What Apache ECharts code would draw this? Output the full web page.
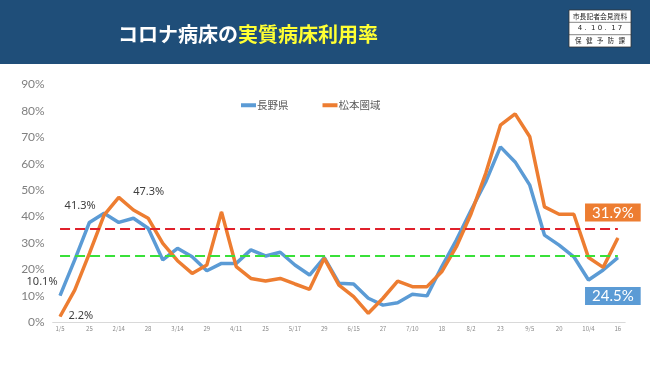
<!DOCTYPE html>
<html><head><meta charset="utf-8">
<script src="https://cdn.jsdelivr.net/npm/echarts@6/dist/echarts.min.js"></script>
<style>html,body{margin:0;padding:0;background:#fff}#c{width:650px;height:365px}</style>
</head><body><div id="c"></div>
<script>
var categories = ['1/5','1/15','1/25','2/4','2/14','2/21','2/28','3/7','3/14','3/21','3/29','4/4','4/11','4/18','4/25','5/9','5/17','5/22','5/29','6/5','6/15','6/20','6/27','7/3','7/10','7/14','7/18','7/25','8/2','8/12','8/23','8/29','9/5','9/12','9/20','9/27','10/4','10/10','10/16'];
var tickLabels = ['1/5','25','2/14','28','3/14','29','4/11','25','5/17','29','6/15','27','7/10','18','8/2','23','9/5','20','10/4','16'];
var naganoValues = [10.1,23.6,37.8,41.3,37.8,39.4,35.6,23.6,28.0,24.8,19.5,22.3,22.3,27.4,25.1,26.5,21.7,17.9,24.5,14.8,14.5,9.1,6.5,7.4,10.6,10.0,21.0,31.1,42.4,53.2,66.4,60.7,51.9,33.0,29.2,24.8,16.0,19.8,24.5];
var matsumotoValues = [2.2,12.2,26.1,40.6,47.3,42.5,39.4,29.9,23.3,18.5,21.7,41.8,21.1,16.6,15.6,16.6,14.5,12.5,24.2,14.1,9.7,3.4,9.1,15.6,13.5,13.5,19.1,28.6,41.1,56.4,74.6,78.9,70.2,43.7,40.9,40.9,24.5,20.8,31.9];
var seriesNames = ['長野県','松本圏域'];
var redLineValue = 35.5;
var greenLineValue = 25.3;
var yTicks = {min:0, max:90, interval:10};

var BLUE = '#5B9BD5', ORANGE = '#ED7D31';
var smallLabel = {show:true, formatter:'{c}%', color:'#404040', fontSize:11, fontFamily:'Noto Sans'};
function boxLabel(color, pos, off){
  return {show:true, position:pos, offset:off, formatter:'{c}%', color:'#fff', fontSize:15,
    fontFamily:'Lato', backgroundColor:color, padding:[2,7,1,7]};
}
var naganoLabels = {};
naganoLabels[0] = Object.assign({}, smallLabel, {position:'left', offset:[3,-14]});
naganoLabels[3] = Object.assign({}, smallLabel, {position:'left', offset:[-3,-7]});
naganoLabels[38] = boxLabel(BLUE, 'bottom', [-5,24]);
var matsuLabels = {};
matsuLabels[0] = Object.assign({}, smallLabel, {position:'right', offset:[3,-1]});
matsuLabels[4] = Object.assign({}, smallLabel, {position:'right', offset:[9,-5]});
matsuLabels[38] = boxLabel(ORANGE, 'top', [-5,-11]);

function build(vals, labels){
  return vals.map(function(v,i){ return labels[i] ? {value:v, label:labels[i]} : v; });
}

var chart = echarts.init(document.getElementById('c'));
chart.setOption({
  animation:false,
  backgroundColor:'#ffffff',
  textStyle:{fontFamily:'Noto Sans CJK JP'},
  grid:{left:52.7, right:24.8, top:84.5, bottom:42.7},
  legend:{top:95, left:236, itemWidth:15, itemHeight:4, itemGap:34, icon:'rect',
    textStyle:{fontSize:10.5, color:'#595959', fontFamily:'Noto Sans CJK JP', padding:[0,0,0,-4]},
    data:seriesNames},
  xAxis:{type:'category', data:categories, boundaryGap:true,
    axisLine:{lineStyle:{color:'#d9d9d9', width:1}}, axisTick:{show:false},
    axisLabel:{interval:1, fontSize:6, color:'#8a8a8a', margin:3,
      formatter:function(v,i){ return tickLabels[i/2] || ''; }}},
  yAxis:{type:'value', min:yTicks.min, max:yTicks.max, interval:yTicks.interval,
    splitLine:{show:false}, axisLine:{show:false}, axisTick:{show:false},
    axisLabel:{formatter:'{value}%', fontSize:12, color:'#808080', margin:8, fontFamily:'Lato'}},
  series:[
    {name:seriesNames[0], type:'line', data:build(naganoValues, naganoLabels), symbol:'circle', symbolSize:1,
      itemStyle:{color:BLUE}, lineStyle:{color:BLUE, width:3.5}, z:3,
      markLine:{symbol:'none', silent:true, label:{show:false}, animation:false,
        data:[
          [{coord:[categories[0], redLineValue], lineStyle:{color:'#E0202B', width:2, type:[10,5]}},{coord:[categories[categories.length-1], redLineValue]}],
          [{coord:[categories[0], greenLineValue], lineStyle:{color:'#39E039', width:2, type:[10,5]}},{coord:[categories[categories.length-1], greenLineValue]}]
        ]}},
    {name:seriesNames[1], type:'line', data:build(matsumotoValues, matsuLabels), symbol:'circle', symbolSize:1,
      itemStyle:{color:ORANGE}, lineStyle:{color:ORANGE, width:3.5}, z:4}
  ],
  graphic:[
    {type:'rect', shape:{x:0,y:0,width:650,height:64}, style:{fill:'#1F4E79'}, z:-1},
    {type:'text', x:248, y:34, style:{
      text:'{w|コロナ病床の}{y|実質病床利用率}', align:'center', verticalAlign:'middle',
      rich:{w:{fill:'#ffffff', fontSize:20, fontWeight:'bold', fontFamily:'Noto Sans CJK JP'},
            y:{fill:'#FFFF33', fontSize:20, fontWeight:'bold', fontFamily:'Noto Sans CJK JP'}}}},
    {type:'rect', shape:{x:569,y:10,width:62,height:37}, style:{fill:'#ffffff', stroke:'#333', lineWidth:0.8}},
    {type:'line', shape:{x1:569,y1:22.3,x2:631,y2:22.3}, style:{stroke:'#333', lineWidth:0.6}},
    {type:'line', shape:{x1:569,y1:34.7,x2:631,y2:34.7}, style:{stroke:'#333', lineWidth:0.6}},
    {type:'text', x:600, y:16.3, style:{text:'市長記者会見資料', align:'center', verticalAlign:'middle', fontSize:6.8, fill:'#222', fontFamily:'Noto Sans CJK JP'}},
    {type:'text', x:600, y:28.6, style:{text:'4 .  1 0 .  1 7', align:'center', verticalAlign:'middle', fontSize:7, fill:'#222', fontFamily:'DejaVu Sans'}},
    {type:'text', x:600, y:41, style:{text:'保   健   予   防   課', align:'center', verticalAlign:'middle', fontSize:6.5, fill:'#222', fontFamily:'Noto Sans CJK JP'}}
  ]
});
</script></body></html>
